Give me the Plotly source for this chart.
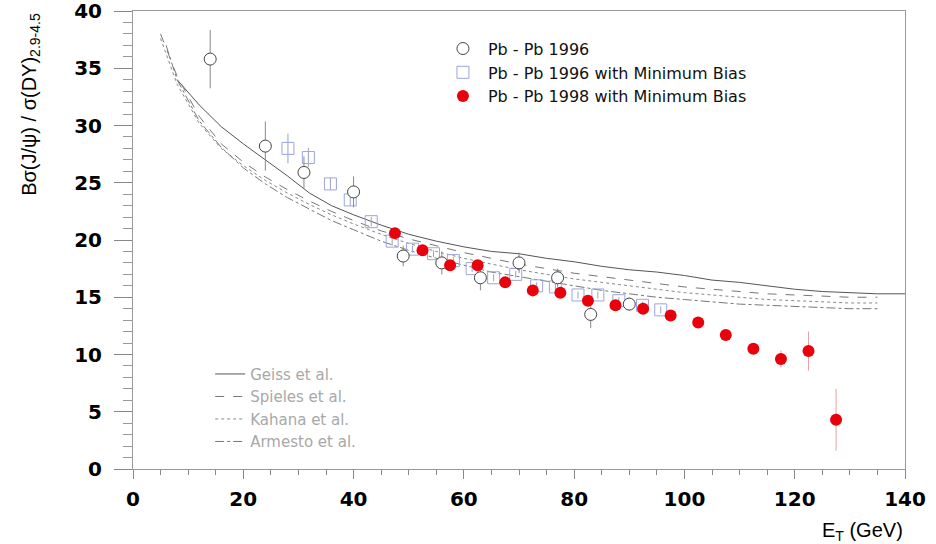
import plotly.graph_objects as go

# ---------------- data ----------------
et_96 = [14, 24, 31, 40, 49, 56, 63, 70, 77, 83, 90]
r_96 = [35.8, 28.2, 25.9, 24.2, 18.6, 18.0, 16.7, 18.0, 16.7, 13.5, 14.4]
e_96 = [2.55, 2.15, 1.4, 1.35, 0.9, 1.0, 1.1, 0.9, 0.8, 1.2, 0.6]

et_mb96 = [28.1, 31.8, 35.8, 39.4, 43.2, 47.0, 50.7, 54.5, 58.1, 61.5, 65.4,
           69.4, 73.2, 76.6, 80.7, 84.3, 88.1, 92.4, 95.7]
r_mb96 = [28.0, 27.2, 24.9, 23.5, 21.6, 19.9, 19.2, 18.8, 18.2, 17.5, 16.7,
          17.0, 16.0, 15.9, 15.2, 15.2, 14.7, 14.3, 13.9]
e_mb96 = [1.3, 0.85, 0.5, 0.5, 0.4, 0.4, 0.3, 0.3, 0.3, 0.3, 0.3,
          0.3, 0.3, 0.3, 0.3, 0.3, 0.3, 0.3, 0.3]

et_mb98 = [47.5, 52.5, 57.5, 62.5, 67.5, 72.5, 77.5, 82.5, 87.5, 92.5, 97.5,
           102.5, 107.5, 112.5, 117.5, 122.5, 127.5]
r_mb98 = [20.6, 19.1, 17.8, 17.8, 16.3, 15.6, 15.4, 14.7, 14.3, 14.0, 13.4,
          12.8, 11.7, 10.5, 9.6, 10.3, 4.3]
e_mb98 = [0.3, 0.3, 0.3, 0.3, 0.3, 0.3, 0.3, 0.3, 0.3, 0.3, 0.3,
          0.35, 0.4, 0.45, 0.75, 1.7, 2.7]

geiss_x = [8, 12, 16, 20, 24, 28, 32, 36, 40, 45, 50, 55, 60, 65, 70, 75, 80,
           85, 90, 95, 100, 105, 110, 115, 120, 125, 130, 135, 140]
geiss_y = [34.0, 31.8, 29.9, 28.4, 27.0, 25.6, 24.1, 23.0, 22.2, 21.3, 20.5,
           19.9, 19.4, 19.0, 18.8, 18.4, 18.1, 17.7, 17.4, 17.2, 16.9, 16.5,
           16.3, 16.0, 15.7, 15.5, 15.4, 15.3, 15.3]

spieles_x = [5, 8, 12, 16, 20, 24, 28, 32, 36, 40, 45, 50, 55, 60, 65, 70, 75,
             80, 85, 90, 95, 100, 105, 110, 115, 120, 125, 130, 135]
spieles_y = [38.0, 34.3, 30.8, 28.4, 26.8, 25.5, 24.4, 23.4, 22.5, 21.7, 20.8,
             20.1, 19.5, 18.9, 18.4, 17.9, 17.5, 17.1, 16.8, 16.5, 16.2, 15.9,
             15.7, 15.5, 15.3, 15.2, 15.1, 15.0, 15.0]

kahana_x = [5, 8, 12, 16, 20, 24, 28, 32, 36, 40, 45, 50, 55, 60, 65, 70, 75,
            80, 85, 90, 95, 100, 105, 110, 115, 120, 125, 130, 135]
kahana_y = [37.6, 33.6, 30.2, 28.0, 26.5, 25.2, 24.1, 23.1, 22.2, 21.4, 20.5,
            19.7, 19.0, 18.4, 17.9, 17.4, 17.0, 16.6, 16.3, 16.0, 15.7, 15.4,
            15.2, 15.0, 14.8, 14.7, 14.6, 14.5, 14.5]

armesto_x = [6, 8, 12, 16, 20, 24, 28, 32, 36, 40, 45, 50, 55, 60, 65, 70, 75,
             80, 85, 90, 95, 100, 105, 110, 115, 120, 125, 130, 135]
armesto_y = [37.0, 34.0, 30.4, 28.1, 26.3, 24.9, 23.7, 22.7, 21.7, 20.9, 19.9,
             19.1, 18.4, 17.8, 17.2, 16.8, 16.4, 16.0, 15.6, 15.3, 15.0, 14.8,
             14.6, 14.4, 14.3, 14.2, 14.1, 14.0, 14.0]

x_ticks = [0, 20, 40, 60, 80, 100, 120, 140]
y_ticks = [0, 5, 10, 15, 20, 25, 30, 35, 40]

# ---------------- figure ----------------
fig = go.Figure()

line_font = dict(family="DejaVu Sans", size=15, color="#a8a8a8")

fig.add_trace(go.Scatter(x=geiss_x, y=geiss_y, mode="lines", name="Geiss et al.",
                         line=dict(color="#555555", width=1, dash="solid"),
                         legend="legend2", legendgroup="g1", legendrank=1))
fig.add_trace(go.Scatter(x=spieles_x, y=spieles_y, mode="lines", name="Spieles et al.",
                         line=dict(color="#777777", width=1, dash="dash"),
                         legend="legend2", legendgroup="g2", legendrank=2))
fig.add_trace(go.Scatter(x=kahana_x, y=kahana_y, mode="lines", name="Kahana et al.",
                         line=dict(color="#888888", width=1, dash="dot"),
                         legend="legend2", legendgroup="g3", legendrank=3))
fig.add_trace(go.Scatter(x=armesto_x, y=armesto_y, mode="lines", name="Armesto et al.",
                         line=dict(color="#777777", width=1, dash="dashdot"),
                         legend="legend2", legendgroup="g4", legendrank=4))

fig.add_trace(go.Scatter(x=et_mb96, y=r_mb96, mode="markers",
                         name="Pb - Pb 1996 with Minimum Bias",
                         marker=dict(symbol="square-open", size=12, color="#9aa6dd",
                                     line=dict(width=1)),
                         error_y=dict(type="data", array=e_mb96, color="#9aa0c8",
                                      thickness=1, width=0),
                         legendgroup="m2", legendrank=2))
fig.add_trace(go.Scatter(x=et_96, y=r_96, mode="markers", name="Pb - Pb 1996",
                         marker=dict(symbol="circle", size=12, color="white",
                                     line=dict(color="#444444", width=1)),
                         error_y=dict(type="data", array=e_96, color="#888888",
                                      thickness=1, width=0),
                         legendgroup="m1", legendrank=1))
fig.add_trace(go.Scatter(x=et_mb98, y=r_mb98, mode="markers",
                         name="Pb - Pb 1998 with Minimum Bias",
                         marker=dict(symbol="circle", size=12, color="#e8000b",
                                     line=dict(width=0)),
                         error_y=dict(type="data", array=e_mb98, color="#e8a0a0",
                                      thickness=1, width=0),
                         legendgroup="m3", legendrank=3))

tick_font = dict(size=20, family="DejaVu Sans", color="black", weight="bold")

fig.update_layout(
    width=936, height=544,
    margin=dict(l=133, r=31, t=11, b=75),
    plot_bgcolor="white", paper_bgcolor="white",
    font=dict(family="Liberation Sans", color="black"),
    legend=dict(x=0.395, y=0.955, xanchor="left", yanchor="top",
                font=dict(family="DejaVu Sans", size=16, color="#111111"),
                bgcolor="rgba(0,0,0,0)", tracegroupgap=0, itemwidth=40),
    legend2=dict(x=0.10, y=0.243, xanchor="left", yanchor="top",
                 font=line_font, bgcolor="rgba(0,0,0,0)", tracegroupgap=0),
    xaxis=dict(range=[0, 140], tickvals=x_ticks, ticks="outside", ticklen=9,
               tickcolor="#888888", showline=True, linecolor="#999999",
               linewidth=1, mirror=True, showgrid=False, zeroline=False,
               tickfont=tick_font, ticklabelstandoff=3,
               ticklabeloverflow="allow", automargin=False,
               minor=dict(dtick=5, ticks="outside", ticklen=5, tickcolor="#888888")),
    yaxis=dict(range=[0, 40], tickvals=y_ticks, ticks="outside", ticklen=18,
               tickcolor="#888888", showline=True, linecolor="#999999",
               linewidth=1, mirror=True, showgrid=False, zeroline=False,
               tickfont=tick_font, ticklabelstandoff=8,
               ticklabeloverflow="allow", automargin=False,
               minor=dict(dtick=1, ticks="outside", ticklen=9, tickcolor="#999999")),
)

fig.add_annotation(xref="paper", yref="paper", x=-0.133, y=1.0,
                   xanchor="center", yanchor="top", textangle=-90,
                   text="Bσ(J/ψ) / σ(DY)<sub>2.9-4.5</sub>", showarrow=False,
                   font=dict(size=20, family="Liberation Sans", color="black"))
fig.add_annotation(xref="paper", yref="paper", x=1.0, y=-0.105,
                   xanchor="right", yanchor="top",
                   text="E<sub>T</sub> (GeV)", showarrow=False,
                   font=dict(size=20, family="Liberation Sans", color="black"))

fig.write_html("out.html")
